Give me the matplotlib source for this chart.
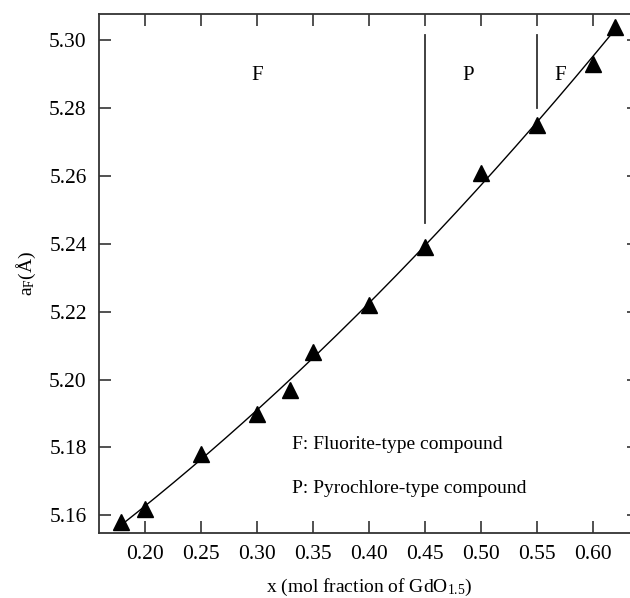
import numpy as np
import matplotlib
matplotlib.use("Agg")
import matplotlib.pyplot as plt

plt.rcParams['font.family'] = ['Liberation Serif', 'DejaVu Serif']
plt.rcParams['mathtext.fontset'] = 'custom'
plt.rcParams['mathtext.rm'] = 'Liberation Serif'
plt.rcParams['mathtext.it'] = 'Liberation Serif:italic'

# lattice parameter vs. GdO1.5 fraction
x_frac = [0.179, 0.20, 0.25, 0.30, 0.33, 0.35, 0.40, 0.45, 0.50, 0.55, 0.60, 0.62]
a_f = [5.158, 5.162, 5.178, 5.190, 5.197, 5.208, 5.222, 5.239, 5.261, 5.275, 5.293, 5.304]

# phase boundaries (x, y bottom, y top)
bound_x = [0.45, 0.55]
bound_lo = [5.246, 5.280]
bound_hi = [5.3015, 5.3015]

xticks = [0.20, 0.25, 0.30, 0.35, 0.40, 0.45, 0.50, 0.55, 0.60]
yticks = [5.16, 5.18, 5.20, 5.22, 5.24, 5.26, 5.28, 5.30]

fig = plt.figure(figsize=(6.3, 5.98), dpi=100)
ax = fig.add_axes([0.1576, 0.1092, 0.8567, 0.8674])

# smooth fit through the points
coef = np.polyfit(x_frac, a_f, 2)
xs = np.linspace(x_frac[0], x_frac[-1], 200)
ax.plot(xs, np.polyval(coef, xs), color='black', lw=1.0)
ax.plot(x_frac, a_f, '^', color='black', markersize=11)

for bx, lo, hi in zip(bound_x, bound_lo, bound_hi):
    ax.plot([bx, bx], [lo, hi], color='#333333', lw=1.3)

ax.text(0.30, 5.2897, 'F', fontsize=15, ha='center', va='center')
ax.text(0.4887, 5.2897, 'P', fontsize=15, ha='center', va='center')
ax.text(0.571, 5.2897, 'F', fontsize=15, ha='center', va='center')
ax.text(0.331, 5.1808, 'F: Fluorite-type compound', fontsize=14, va='center')
ax.text(0.331, 5.168, 'P: Pyrochlore-type compound', fontsize=14, va='center')

ax.set_xlim(0.1592, 0.6414)
ax.set_ylim(5.1549, 5.3077)
ax.set_xticks(xticks)
ax.set_yticks(yticks)
ax.set_xticklabels([f'{v:.2f}' for v in xticks])
ax.set_yticklabels([f'{v:.2f}' for v in yticks])
ax.tick_params(direction='in', length=8.5, width=1.2, labelsize=15.5,
               top=True, right=True, color='#333333', pad=9)
for s in ax.spines.values():
    s.set_linewidth(1.3)
    s.set_color('#333333')

ax.set_xlabel(r'x (mol fraction of GdO$_{1.5}$)', fontsize=14, labelpad=9)
ax.set_ylabel(r'a$_\mathrm{F}$(Å)', fontsize=14, labelpad=8)

fig.savefig('out.png', dpi=100)
